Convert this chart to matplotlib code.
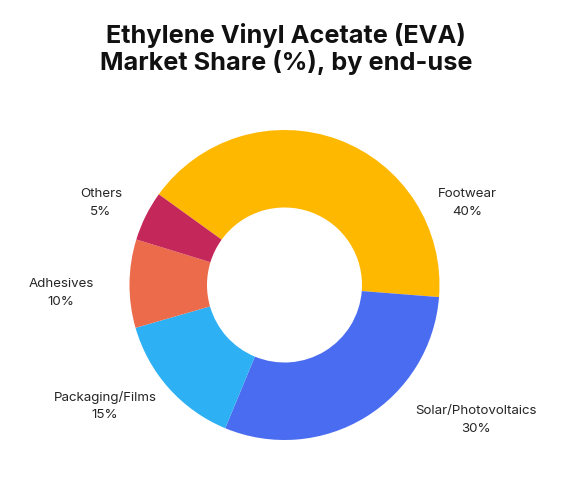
import matplotlib
matplotlib.use("Agg")
import matplotlib.pyplot as plt

# Data (wedge sizes; labels as printed)
categories = ["Footwear", "Solar/Photovoltaics", "Packaging/Films", "Adhesives", "Others"]
shares = [41.3, 30.0, 14.3, 9.2, 5.2]
share_labels = ["40%", "30%", "15%", "10%", "5%"]
colors = ["#FFB800", "#4A6CF0", "#2EB0F5", "#EB6B4B", "#C4275A"]

W, H = 583, 480
fig = plt.figure(figsize=(W / 100, H / 100), dpi=100)
ax = fig.add_axes([0, 0, 1, 1])

cx, cy, R = 284.5, H - 285, 155
ax.pie(shares, colors=colors, startangle=144.2, counterclock=False,
       center=(cx, cy), radius=R, frame=True,
       wedgeprops=dict(width=R * 0.5, linewidth=0))
ax.set_xlim(0, W)
ax.set_ylim(0, H)
ax.set_aspect("equal")
ax.axis("off")

# label anchor positions (pixels from top-left)
label_pos = [(467, 203), (476, 420), (105, 406), (61, 293), (101, 203)]
for cat, lab, (x, y) in zip(categories, share_labels, label_pos):
    ax.text(x, H - y, f"{cat}\n{lab}", ha="center", va="center",
            fontsize=9.6, family=["Inter", "DejaVu Sans"], color="#262626",
            linespacing=1.6)

fig.text(286 / W, 1 - 49 / H, "Ethylene Vinyl Acetate (EVA)\nMarket Share (%), by end-use",
         ha="center", va="center", fontsize=18.2, fontweight="bold",
         family=["Inter", "DejaVu Sans"], color="#111111", linespacing=1.12)

fig.savefig("out.png", dpi=100)
